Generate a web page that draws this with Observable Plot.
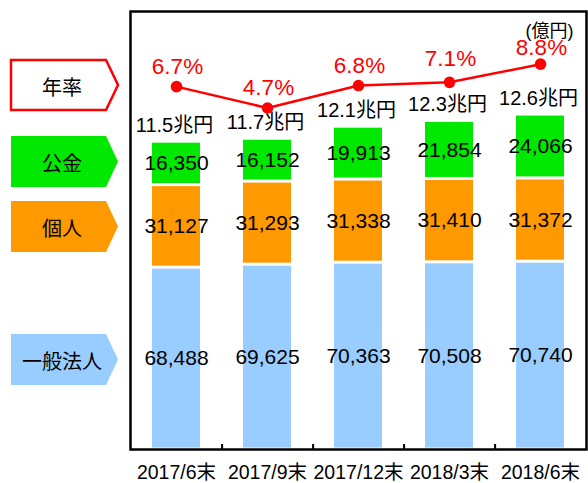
<!DOCTYPE html>
<html><head><meta charset="utf-8">
<script src="https://cdn.jsdelivr.net/npm/d3@7"></script>
<script src="https://cdn.jsdelivr.net/npm/@observablehq/plot@0.6"></script>
<style>
body{margin:0;background:#fff;}
#wrap{position:relative;width:588px;height:483px;}
#legend{position:absolute;left:0;top:0;}
</style></head><body><div id="wrap"></div>
<script>
const dates = ["2017/6末","2017/9末","2017/12末","2018/3末","2018/6末"];
const series = ["一般法人","個人","公金"];
const corporate = [68488,69625,70363,70508,70740];
const individual = [31127,31293,31338,31410,31372];
const publicFunds = [16350,16152,19913,21854,24066];
const rates = [6.7,4.7,6.8,7.1,8.8];
const totalLabels = ["11.5兆円","11.7兆円","12.1兆円","12.3兆円","12.6兆円"];
const unitLabel = "(億円)";
const rateLegend = "年率";
const colors = ["#99CCFF","#FF9900","#00E800"];
const rateColor = "#FF0000";

const FONT = "'Liberation Sans', Arial, 'Noto Sans CJK JP', sans-serif";
const W = 588, H = 483, mL = 130, mR = 2, mT = 11, mB = 34;
const rateLabelOffsets = [-20, -20, -20, -24, -16];

const valuesBySeries = [corporate, individual, publicFunds];
const long = [];
dates.forEach((d, i) => series.forEach((s, j) => long.push({date: d, series: s, value: valuesBySeries[j][i]})));
const table = dates.map((d, i) => ({
  date: d,
  total: corporate[i] + individual[i] + publicFunds[i],
  totalLabel: totalLabels[i],
  rate: rates[i]
}));
// secondary (rate) axis mapped onto the primary y scale
const rateToY = d3.scaleLinear().domain([0, 10]).range([109700, 150000]);
const step = (W - mL - mR) / dates.length;

const chart = Plot.plot({
  width: W, height: H,
  marginLeft: mL, marginRight: mR, marginTop: mT, marginBottom: mB,
  style: {fontFamily: FONT, fontSize: "19.5px", color: "black", background: "white"},
  x: {domain: dates, paddingInner: 0.475, paddingOuter: 0.2375, tickSize: 0, tickPadding: 16, label: null},
  y: {domain: [0, 165000], axis: null},
  color: {domain: series, range: colors},
  marks: [
    Plot.barY(long, {x: "date", y: "value", fill: "series", z: "series", insetTop: 1.5, insetBottom: 1.5}),
    Plot.text(long, Plot.stackY({x: "date", y: "value", z: "series", text: d => d3.format(",")(d.value), fontSize: 21, fill: "black"})),
    Plot.text(table, {x: "date", y: "total", text: "totalLabel", dy: -16, dx: -2, fontSize: 20, fill: "black"}),
    Plot.line(table, {x: "date", y: d => rateToY(d.rate), stroke: rateColor, strokeWidth: 2.5}),
    Plot.dot(table, {x: "date", y: d => rateToY(d.rate), r: 5.8, fill: rateColor}),
    ...table.map((row, i) => Plot.text([row], {x: "date", y: d => rateToY(d.rate), text: d => d.rate.toFixed(1) + "%", dy: rateLabelOffsets[i], dx: 1, fontSize: 22.5, fill: rateColor})),
    Plot.ruleX(dates.slice(0, -1), {x: d => d, dx: step / 2, insetTop: (H - mT - mB) - 5, stroke: "black", strokeWidth: 2}),
    Plot.text([unitLabel], {frameAnchor: "top-right", text: d => d, dx: -13, dy: 13, fontSize: 18, fill: "black"}),
    Plot.frame({stroke: "black", strokeWidth: 2.5})
  ]
});
const wrap = document.getElementById("wrap");
wrap.appendChild(chart);

// legend (arrow-shaped labels on the left)
const legendItems = [
  {label: rateLegend, fill: "white", stroke: rateColor, top: 60, bottom: 110},
  {label: series[2], fill: colors[2], stroke: "none", top: 136, bottom: 187},
  {label: series[1], fill: colors[1], stroke: "none", top: 201, bottom: 252},
  {label: series[0], fill: colors[0], stroke: "none", top: 334, bottom: 385}
];
const lg = d3.select(wrap).append("svg").attr("id", "legend").attr("width", 126).attr("height", H);
legendItems.forEach(it => {
  const xl = 11, xb = 106, xt = 118, mid = (it.top + it.bottom) / 2;
  lg.append("polygon")
    .attr("points", [[xl, it.top], [xb, it.top], [xt, mid], [xb, it.bottom], [xl, it.bottom]].map(p => p.join(",")).join(" "))
    .attr("fill", it.fill).attr("stroke", it.stroke).attr("stroke-width", 2.5);
  lg.append("text").attr("x", 62).attr("y", mid + 1).attr("text-anchor", "middle").attr("dominant-baseline", "central")
    .attr("font-family", "'Noto Sans CJK JP', sans-serif").attr("font-size", 20).attr("fill", "black").text(it.label);
});
</script></body></html>
